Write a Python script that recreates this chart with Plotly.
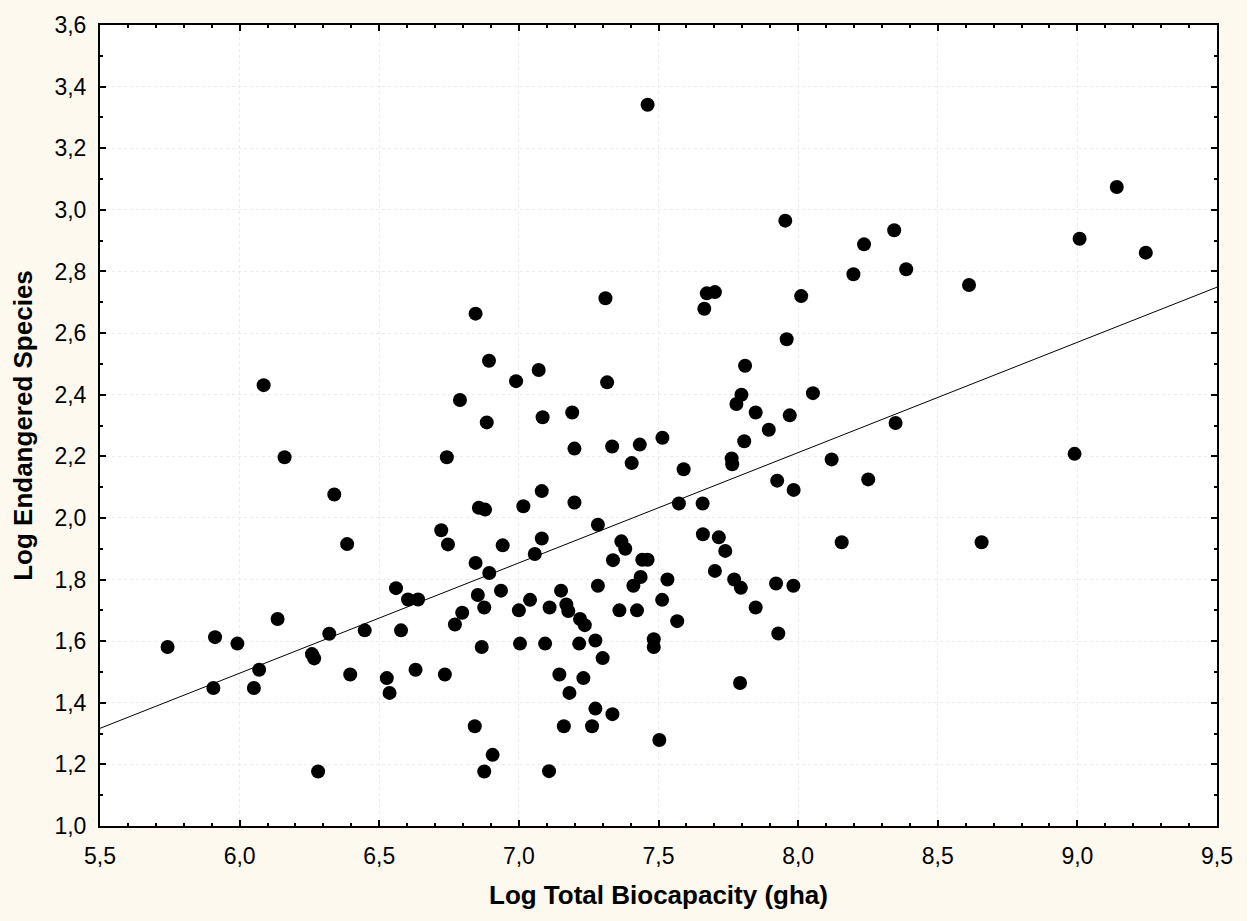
import plotly.graph_objects as go

# Log Total Biocapacity (gha)
biocapacity = [
    6.885, 6.161, 6.742, 6.339, 6.857, 6.879, 6.722, 6.385, 6.746, 6.942,
    6.845, 6.894, 6.560, 6.936, 6.603, 6.639, 6.853, 6.876, 6.797, 6.136,
    6.771, 6.321, 6.448, 6.578, 5.912, 5.992, 5.742, 6.867, 6.259, 6.267,
    6.070, 6.396, 6.527, 6.630, 6.735, 5.906, 6.051, 6.537, 6.842, 6.906,
    6.281, 6.876,
    6.845, 6.893, 6.086, 6.789,
    7.461, 7.954, 8.236, 8.198, 7.310, 7.673, 7.702, 7.664, 8.011, 7.959,
    7.071, 6.990, 7.316, 7.810, 8.053, 7.797, 7.779, 7.848, 7.970, 7.191,
    7.085,
    7.895, 7.807, 7.514, 7.199, 7.334, 7.433, 7.404, 7.590, 7.762, 7.764,
    8.120, 8.251, 7.925, 7.984, 7.082, 7.016, 7.199, 7.573, 7.658, 7.283,
    7.082, 7.057, 7.659, 7.716, 7.739, 7.367, 7.381, 7.337, 7.442, 7.461,
    7.436, 7.410, 7.532, 7.283, 7.702, 7.771, 7.795, 7.921, 7.983, 7.040,
    7.151, 7.000, 7.110, 7.170, 7.177, 7.219, 7.236, 7.360, 7.423, 7.513,
    7.567, 7.848, 7.004, 7.094, 7.216, 7.274, 7.483, 7.483, 7.300, 7.929,
    7.145, 7.231, 7.181, 7.792, 7.274, 7.335, 7.161, 7.262, 7.503, 7.108,
    8.156,
    9.141, 8.344, 9.008, 9.245, 8.387, 8.612, 8.349, 8.990, 8.657,
]

# Log Endangered Species
endangered = [
    2.310, 2.197, 2.197, 2.076, 2.033, 2.027, 1.960, 1.915, 1.914, 1.911,
    1.854, 1.821, 1.772, 1.764, 1.735, 1.735, 1.750, 1.709, 1.692, 1.672,
    1.654, 1.624, 1.635, 1.635, 1.613, 1.592, 1.581, 1.581, 1.558, 1.544,
    1.507, 1.492, 1.480, 1.507, 1.492, 1.448, 1.448, 1.432, 1.324, 1.231,
    1.177, 1.177,
    2.663, 2.510, 2.431, 2.383,
    3.341, 2.965, 2.888, 2.791, 2.713, 2.729, 2.733, 2.679, 2.720, 2.580,
    2.480, 2.444, 2.440, 2.494, 2.405, 2.400, 2.370, 2.342, 2.333, 2.342,
    2.327,
    2.286, 2.249, 2.260, 2.225, 2.232, 2.238, 2.178, 2.158, 2.193, 2.174,
    2.190, 2.125, 2.121, 2.091, 2.087, 2.038, 2.050, 2.047, 2.047, 1.978,
    1.933, 1.883, 1.947, 1.937, 1.893, 1.924, 1.900, 1.863, 1.864, 1.864,
    1.808, 1.780, 1.800, 1.780, 1.828, 1.800, 1.773, 1.787, 1.780, 1.734,
    1.764, 1.700, 1.709, 1.719, 1.698, 1.672, 1.652, 1.700, 1.700, 1.734,
    1.665, 1.709, 1.592, 1.592, 1.592, 1.602, 1.606, 1.581, 1.545, 1.625,
    1.492, 1.480, 1.432, 1.464, 1.381, 1.363, 1.324, 1.324, 1.279, 1.178,
    1.921,
    3.074, 2.934, 2.906, 2.861, 2.807, 2.756, 2.308, 2.208, 1.921,
]

# Fitted regression line end points
fit_x = [5.5, 9.5]
fit_y = [1.317, 2.749]

x_ticks = [5.5, 6.0, 6.5, 7.0, 7.5, 8.0, 8.5, 9.0, 9.5]
y_ticks = [1.0, 1.2, 1.4, 1.6, 1.8, 2.0, 2.2, 2.4, 2.6, 2.8, 3.0, 3.2, 3.4, 3.6]

FONT = "Liberation Sans, Arial, sans-serif"

fig = go.Figure()
fig.add_trace(go.Scatter(
    x=fit_x, y=fit_y, mode="lines",
    line=dict(color="black", width=1), hoverinfo="skip", showlegend=False,
))
fig.add_trace(go.Scatter(
    x=biocapacity, y=endangered, mode="markers",
    marker=dict(color="black", size=14, line=dict(width=0)),
    showlegend=False,
))

axis_common = dict(
    showline=True, linecolor="black", linewidth=2, mirror="ticks",
    ticks="inside", ticklen=6, tickwidth=2, tickcolor="black",
    showgrid=True, gridcolor="#ebebeb", gridwidth=1, griddash="dot",
    zeroline=False, tickformat=".1f",
    tickfont=dict(family=FONT, size=23, color="black"),
    title_font=dict(family=FONT, size=26, color="black"),
)
minor_common = dict(dtick=0.1, ticks="inside", ticklen=3, tickwidth=2,
                    tickcolor="black", showgrid=False)

fig.update_xaxes(
    range=[5.5, 9.5], tickvals=x_ticks, minor=minor_common,
    ticklabelstandoff=8,
    title_text="<b>Log Total Biocapacity (gha)</b>", title_standoff=18,
    **axis_common,
)
fig.update_yaxes(
    range=[1.0, 3.6], tickvals=y_ticks, minor=minor_common,
    ticklabelstandoff=7,
    title_text="<b>Log Endangered Species</b>", title_standoff=14,
    **axis_common,
)

fig.update_layout(
    width=1247, height=921,
    margin=dict(l=100, r=30, t=19, b=95),
    paper_bgcolor="#fdf9ee", plot_bgcolor="white",
    separators=",.",
    font=dict(family=FONT, size=23, color="black"),
)

fig.write_html("out.html", config={"displayModeBar": False},
               post_script="document.body.style.margin='0';")
